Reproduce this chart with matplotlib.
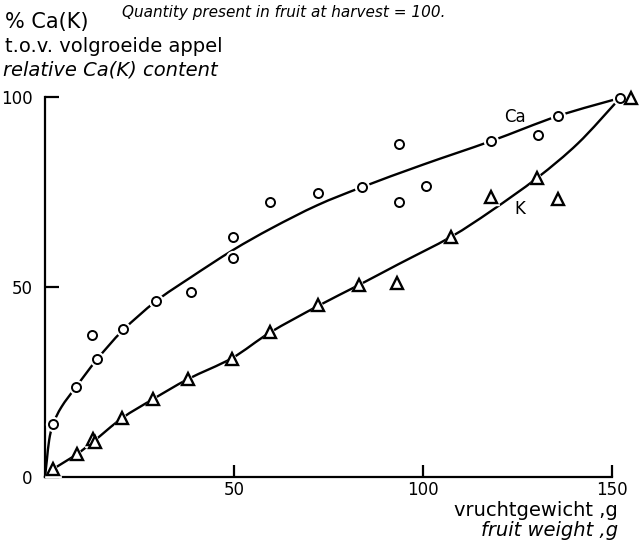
import matplotlib
matplotlib.use("Agg")
import matplotlib.pyplot as plt
from matplotlib.path import Path
from matplotlib.patches import PathPatch

# Ca (circles) observations
ca_x = [2.1, 8.2, 12.4, 13.8, 20.6, 29.4, 38.5, 49.7, 49.7, 59.5, 72.2, 83.9, 93.7, 93.7, 100.8, 118.0, 130.4, 135.7, 152.0]
ca_y = [13.9, 23.7, 37.4, 31.0, 39.0, 46.3, 48.7, 63.2, 57.6, 72.4, 74.7, 76.3, 87.6, 72.4, 76.6, 88.4, 90.0, 95.0, 99.7]
# K (triangles) observations
k_x = [2.1, 8.4, 12.6, 13.2, 20.4, 28.6, 37.9, 49.5, 59.5, 72.2, 83.0, 93.2, 107.4, 118.0, 130.2, 135.7, 155.0]
k_y = [2.0, 6.0, 10.0, 9.2, 15.5, 20.5, 25.8, 31.0, 38.2, 45.3, 50.5, 51.0, 63.2, 73.7, 78.7, 73.2, 99.7]

# hand-drawn fitted curves
ca_fit_x = [0, 0.5, 1.1, 2.1, 4.4, 8.2, 13.8, 20.6, 29.4, 38.5, 49.7, 60, 72.0, 83.9, 100, 118, 135.7, 152]
ca_fit_y = [0, 4.5, 9.7, 13.9, 18.5, 23.7, 31.0, 38.6, 46.3, 52.5, 59.7, 65.5, 71.5, 76.3, 82.2, 88.4, 95.0, 99.7]
k_fit_x = [0, 2.1, 8.4, 13.0, 20.4, 28.6, 37.9, 49.5, 59.5, 72.2, 83.0, 93.5, 107.4, 118, 130.2, 141, 151]
k_fit_y = [0, 2.0, 6.0, 9.5, 15.5, 20.5, 25.8, 31.3, 38.0, 45.0, 50.5, 56.0, 63.2, 70.0, 78.7, 87.8, 98.5]

x_ticks = [50, 100, 150]
y_ticks = [0, 50, 100]


def smooth_path(xs, ys):
    """Catmull-Rom curve through the given points, as cubic Bezier path."""
    pts = list(zip(xs, ys))
    n = len(pts)
    verts = [pts[0]]
    codes = [Path.MOVETO]
    for i in range(n - 1):
        p0 = pts[i - 1] if i > 0 else pts[i]
        p1 = pts[i]
        p2 = pts[i + 1]
        p3 = pts[i + 2] if i + 2 < n else pts[i + 1]
        c1 = (p1[0] + (p2[0] - p0[0]) / 6, p1[1] + (p2[1] - p0[1]) / 6)
        c2 = (p2[0] - (p3[0] - p1[0]) / 6, p2[1] - (p3[1] - p1[1]) / 6)
        verts += [c1, c2, p2]
        codes += [Path.CURVE4] * 3
    return Path(verts, codes)


W, H = 639, 541
fig = plt.figure(figsize=(W / 100, H / 100), dpi=100)
ax = fig.add_axes([45 / W, 64 / H, 567 / W, 380 / H])
ax.set_xlim(0, 150)
ax.set_ylim(0, 100)

for fx, fy in [(ca_fit_x, ca_fit_y), (k_fit_x, k_fit_y)]:
    patch = PathPatch(smooth_path(fx, fy), facecolor="none", edgecolor="black",
                      lw=1.7, clip_on=False, zorder=2, capstyle="round")
    ax.add_patch(patch)

# white halos to mimic the gaps of the line around the symbols
ax.plot(ca_x, ca_y, ls="none", marker="o", ms=10, mfc="white", mec="white", clip_on=False, zorder=3)
ax.plot(k_x, k_y, ls="none", marker="^", ms=12, mfc="white", mec="white", clip_on=False, zorder=3)
ax.plot(ca_x, ca_y, ls="none", marker="o", ms=6.5, mfc="white", mec="black", mew=1.4, clip_on=False, zorder=4)
ax.plot(k_x, k_y, ls="none", marker="^", ms=8.5, mfc="white", mec="black", mew=1.7, clip_on=False, zorder=4)

ax.text(124.3, 94.8, "Ca", fontsize=12, ha="center", va="center", zorder=5)
ax.text(125.5, 70.6, "K", fontsize=12, ha="center", va="center", zorder=5)

for s in ["top", "right"]:
    ax.spines[s].set_visible(False)
for s in ["left", "bottom"]:
    ax.spines[s].set_linewidth(1.6)
ax.set_xticks(x_ticks)
ax.set_yticks(y_ticks)
ax.set_xticklabels([str(v) for v in x_ticks])
ax.set_yticklabels([str(v) for v in y_ticks])
ax.tick_params(axis="y", direction="in", length=10, width=1.6, pad=9, labelsize=12)
ax.tick_params(axis="x", direction="in", length=9, width=1.6, pad=3, labelsize=12)

fig.text(5 / W, 1 - 22 / H, "% Ca(K)", fontsize=15, ha="left", va="center")
fig.text(122 / W, 1 - 12 / H, "Quantity present in fruit at harvest = 100.", fontsize=11,
         style="italic", ha="left", va="center")
fig.text(5 / W, 1 - 46 / H, "t.o.v. volgroeide appel", fontsize=14, ha="left", va="center")
fig.text(3 / W, 1 - 70 / H, "relative Ca(K) content", fontsize=14, style="italic", ha="left", va="center")
fig.text(618 / W, 1 - 510 / H, "vruchtgewicht ,g", fontsize=14, ha="right", va="center")
fig.text(618 / W, 1 - 530 / H, "fruit weight ,g", fontsize=14, style="italic", ha="right", va="center")

fig.savefig("out.png", dpi=100, facecolor="white")
